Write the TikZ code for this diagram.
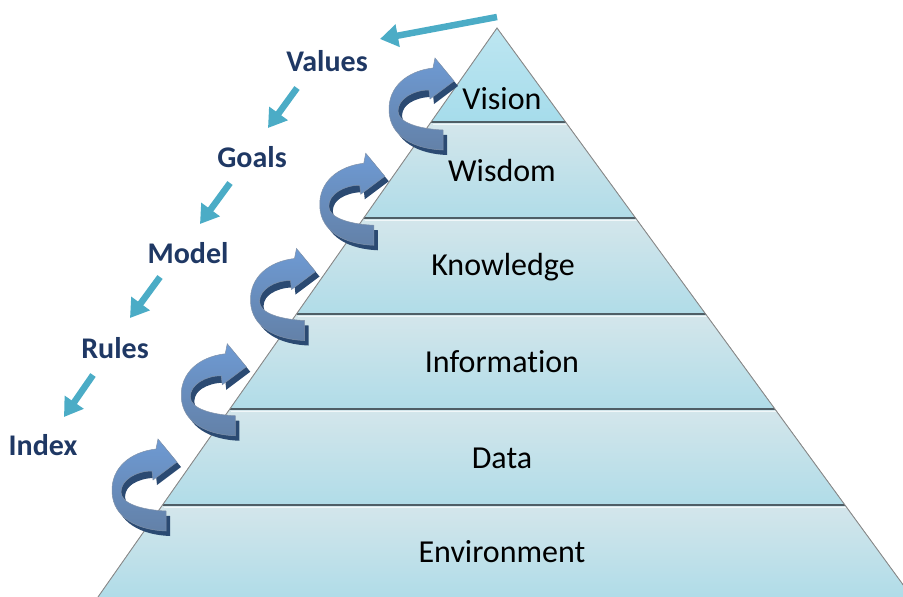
\documentclass[tikz,border=0pt]{standalone}
\usepackage{fontspec}
\setmainfont{Carlito}[Ligatures=NoCommon]
\usetikzlibrary{arrows.meta}
\definecolor{labelblue}{HTML}{1F3864}
\definecolor{arrowcyan}{HTML}{4BACC6}
\definecolor{bandtop}{HTML}{D4E6EB}
\definecolor{bandbot}{HTML}{B0DCE8}
\definecolor{visiontop}{HTML}{BDE6F1}
\definecolor{visionbot}{HTML}{A6DCEB}
\definecolor{sepcol}{HTML}{4E5E66}
\definecolor{edgecol}{HTML}{8A8A8A}
\definecolor{ribbontop}{HTML}{6E9AD3}
\definecolor{ribbonmid}{HTML}{4A7CBB}
\definecolor{ribbonbot}{HTML}{6381A8}
\definecolor{ribbondark}{HTML}{2B4A72}
\tikzset{
  band/.style={top color=bandtop,bottom color=bandbot},
  sepline/.style={draw=sepcol,line width=1.4pt},
  sephigh/.style={draw=white,line width=0.8pt,opacity=0.7},
  edgeline/.style={draw=edgecol,line width=0.9pt},
  bandtext/.style={font=\fontsize{32}{36}\selectfont,text=black},
  labeltext/.style={font=\bfseries\fontsize{30}{34}\selectfont,text=labelblue},
  cyanarrow/.style={draw=arrowcyan,line width=6.5pt,-{Triangle[width=22pt,length=18pt]}},
  ribbonfront/.style={top color=ribbontop,middle color=ribbonmid,bottom color=ribbonbot,draw=ribbondark!60,line width=0.5pt},
  ribbonback/.style={fill=ribbondark}
}
\newcommand{\ribbonpath}{(66,81) -- (66,101) .. controls (38,100) and (13,88) .. (12,62) .. controls (11,38) and (30,22) .. (56,19) -- (58,9) -- (77,32) -- (53,50) -- (52,41) .. controls (36,41) and (21,50) .. (21,62) .. controls (21,74) and (43,80) .. (66,81) -- cycle}
\begin{document}
\begin{tikzpicture}[x=1pt,y=-1pt]
\useasboundingbox (0,0) rectangle (903,597);
\begin{scope}
\clip (0,0) rectangle (903,597);
% bands
\fill[top color=visiontop,bottom color=visionbot] (497,28) -- (565.6,122) -- (431.1,122) -- cycle;
\fill[band] (431.1,122) -- (565.6,122) -- (635.6,218) -- (363.8,218) -- cycle;
\fill[band] (363.8,218) -- (635.6,218) -- (705.7,314) -- (296.5,314) -- cycle;
\fill[band] (296.5,314) -- (705.7,314) -- (775.0,409) -- (229.8,409) -- cycle;
\fill[band] (229.8,409) -- (775.0,409) -- (845.0,505) -- (162.5,505) -- cycle;
\fill[band] (162.5,505) -- (845.0,505) -- (912,597) -- (98,597) -- cycle;
% separators
\foreach \ya/\xl/\xr in {122/431.1/565.6,218/363.8/635.6,314/296.5/705.7,409/229.8/775.0,505/162.5/845.0}{
  \draw[sephigh] (\xl+1.5,\ya+2) -- (\xr+1.5,\ya+2);
  \draw[sepline] (\xl,\ya) -- (\xr,\ya);
}
\draw[edgeline] (98,597) -- (497,28) -- (912,597);
\end{scope}
% band texts
\node[bandtext] (vision) at (502,99) {Vision};
\node[bandtext] (wisdom) at (502,171) {Wisdom};
\node[bandtext] (knowledge) at (503,267) {Knowledge};
\node[bandtext] (information) at (502,362) {Information};
\node[bandtext] (data) at (502,458) {Data};
\node[bandtext] (environment) at (502,552) {Environment};
% curved 3D arrows
\foreach \k in {0,...,4}{
  \begin{scope}[shift={(100+69.25*\k,430-95.25*\k)}]
    \fill[ribbonback,shift={(4,5)}] \ribbonpath;
    \fill[ribbonback,shift={(2,7)}] (52,41) .. controls (36,41) and (21,50) .. (21,62) -- (12,62) .. controls (11,38) and (30,22) .. (56,19) -- cycle;
    \shade[ribbonfront] \ribbonpath;
  \end{scope}
}
% labels
\node[labeltext] (values) at (327,61) {Values};
\node[labeltext] (goals) at (252,157) {Goals};
\node[labeltext] (model) at (188,253) {Model};
\node[labeltext] (rules) at (115,348) {Rules};
\node[labeltext] (index) at (43,445) {Index};
% cyan arrows
\coordinate (va) at (297,88); \coordinate (vb) at (268,128);
\coordinate (ga) at (230,183); \coordinate (gb) at (200,224);
\coordinate (ma) at (160,277); \coordinate (mb) at (130,318);
\coordinate (ra) at (93,375); \coordinate (rb) at (64,417);
\coordinate (ta) at (497,17); \coordinate (tb) at (380,39);
\draw[cyanarrow] (va) -- (vb);
\draw[cyanarrow] (ga) -- (gb);
\draw[cyanarrow] (ma) -- (mb);
\draw[cyanarrow] (ra) -- (rb);
\draw[cyanarrow] (ta) -- (tb);
\end{tikzpicture}
\end{document}
